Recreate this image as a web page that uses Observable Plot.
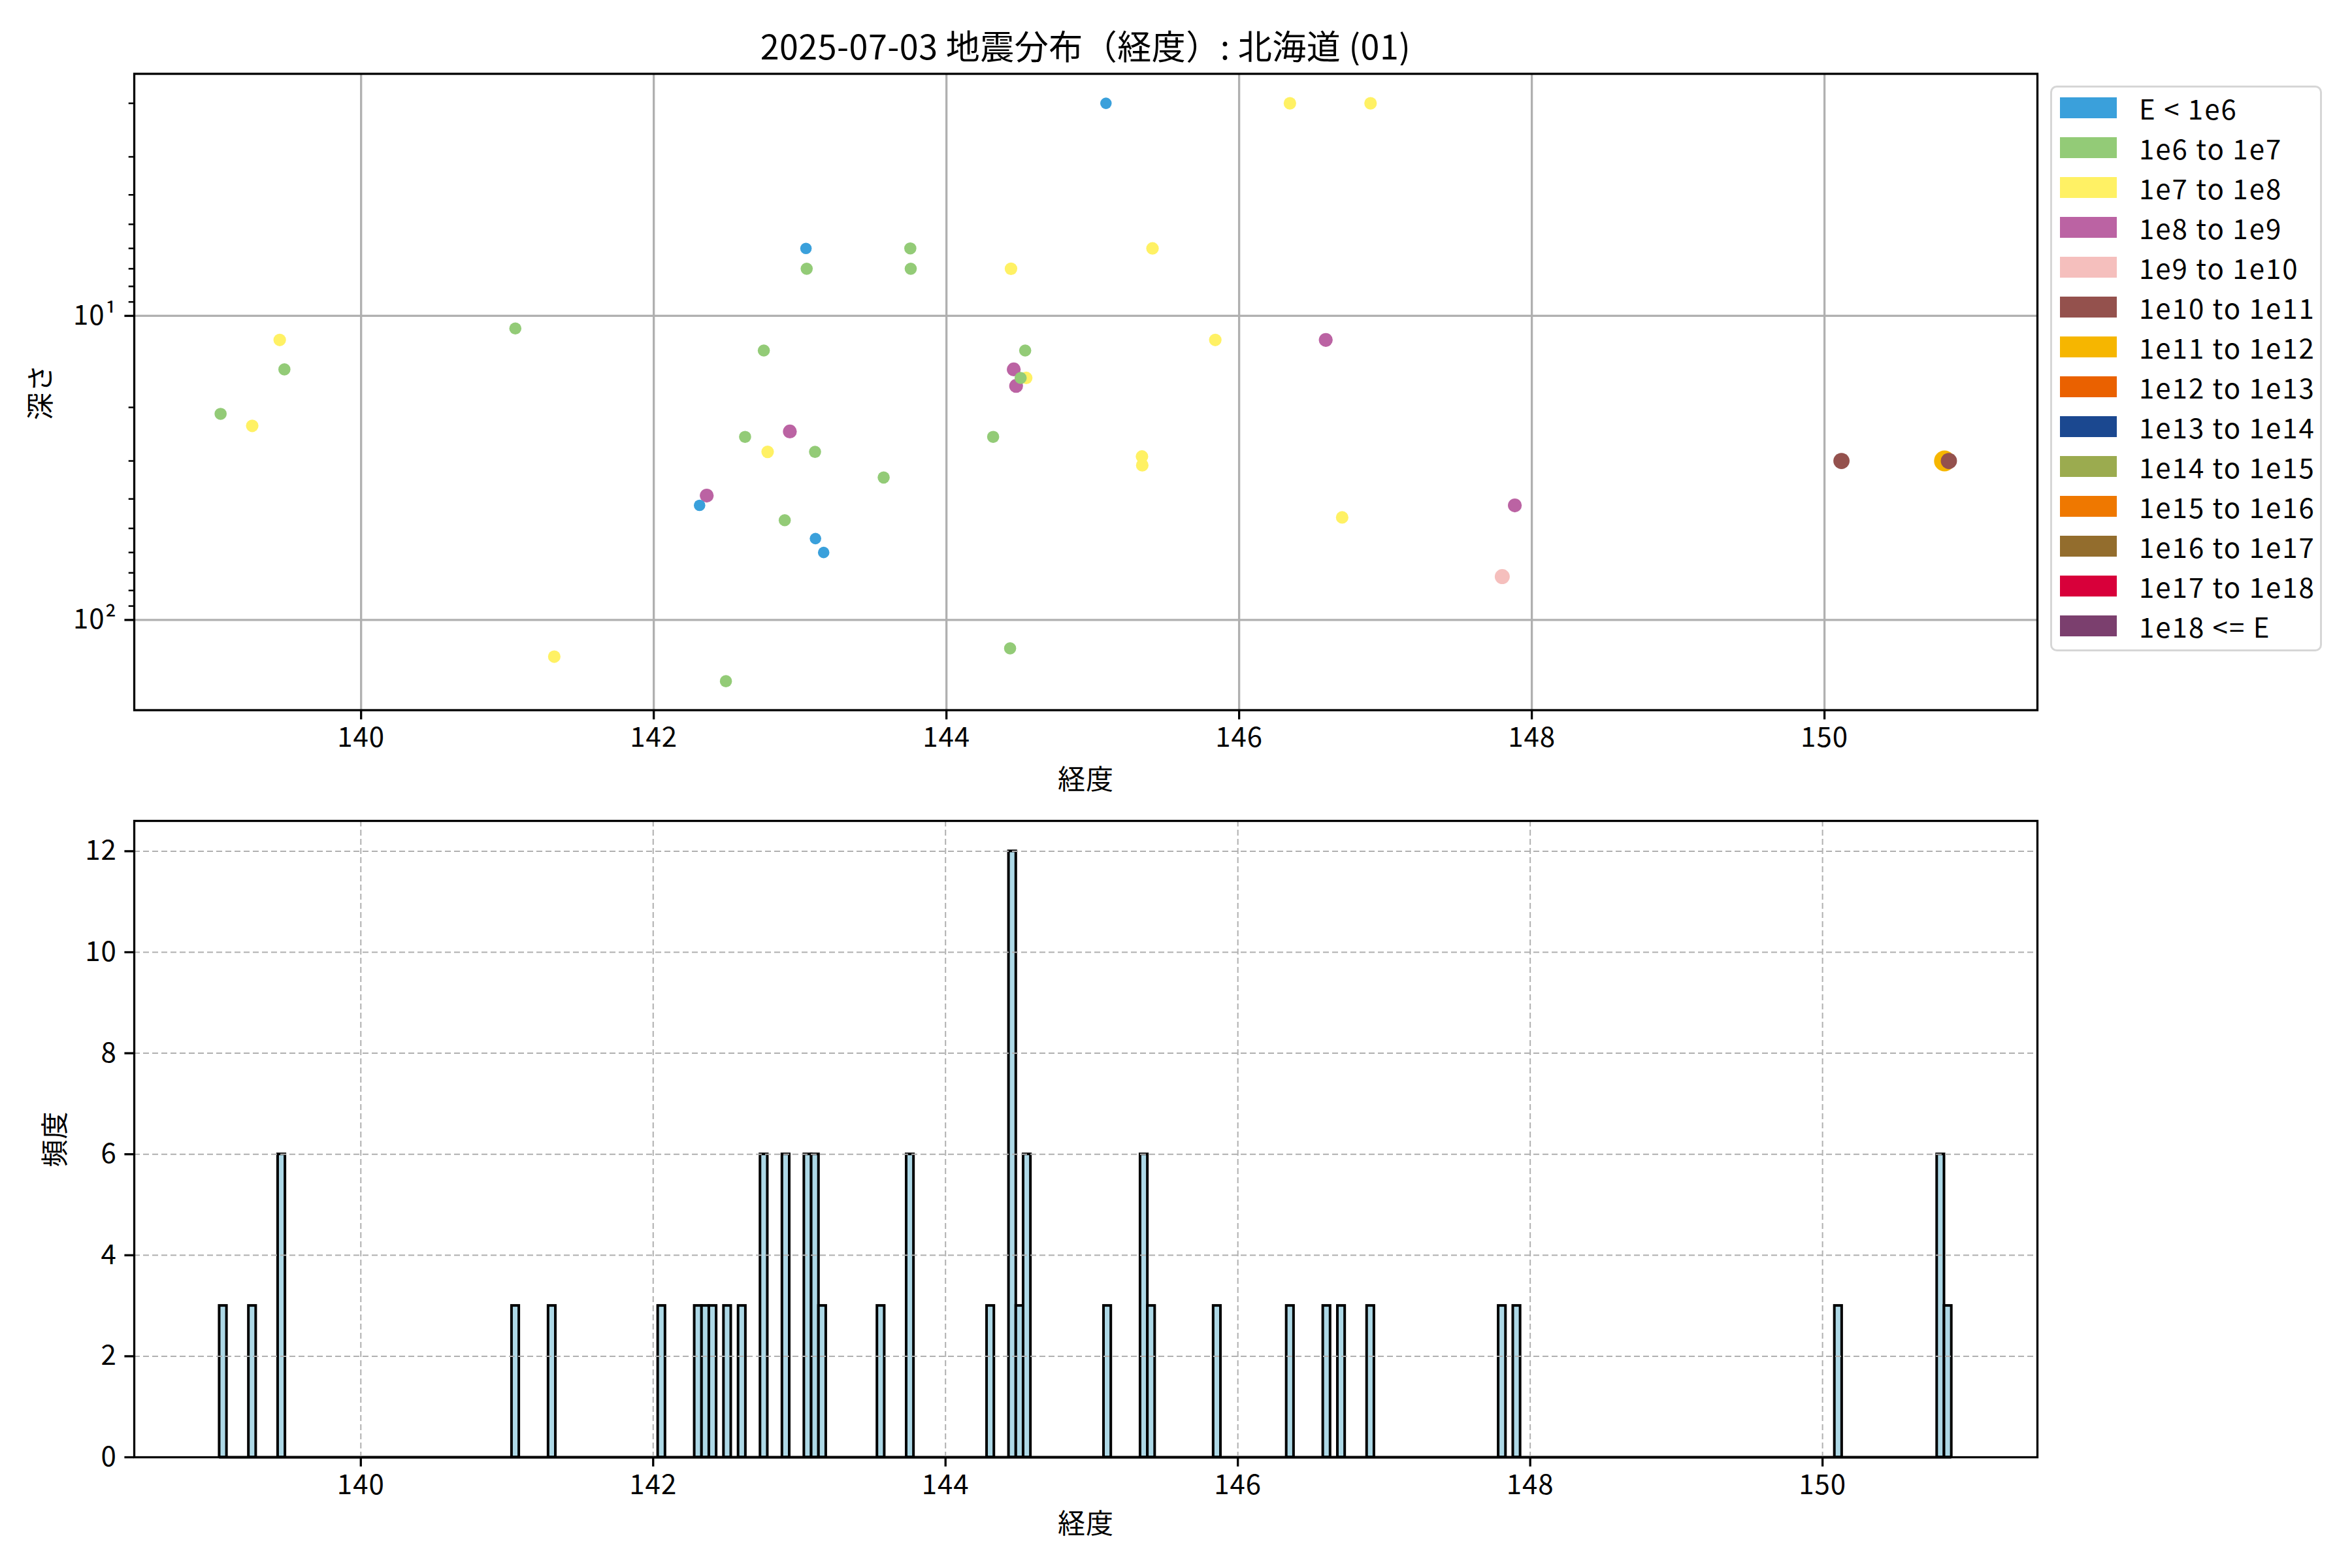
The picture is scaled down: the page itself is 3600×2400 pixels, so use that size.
<!DOCTYPE html>
<html><head><meta charset="utf-8">
<script src="https://cdn.jsdelivr.net/npm/d3@7"></script>
<script src="https://cdn.jsdelivr.net/npm/@observablehq/plot@0.6"></script>
<style>
body{margin:0;background:#fff}
#fig{position:relative;width:3600px;height:2400px;background:#fff;font-family:"Noto Sans CJK JP",sans-serif;color:#000}
#title{position:absolute;left:205px;width:2913px;top:37px;text-align:center;font-size:52px;line-height:64px;white-space:nowrap;letter-spacing:0.5px}
#topChart{position:absolute;left:0;top:100px}
#bottomChart{position:absolute;left:0;top:1240px}
#legend{position:absolute;left:3138px;top:131px;width:410px;height:854px;border:3px solid #d6d6d6;border-radius:10px;padding:0 0 6px 0;background:#fff}
.row{height:61px;display:flex;align-items:center}
.sw{width:87px;height:32px;margin-left:12px;margin-right:34px;flex:none}
.lab{font-size:42px;line-height:61px;white-space:nowrap;letter-spacing:2px}
</style></head><body>
<div id="fig">
  <div id="title"></div>
  <div id="topChart"></div>
  <div id="legend"></div>
  <div id="bottomChart"></div>
</div>
<script>
// ---------- data ----------
const titleText = "2025-07-03 地震分布（経度）: 北海道 (01)";
const xLabel = "経度";
const depthLabel = "深さ";
const countLabel = "頻度";

const classLabels = ["E < 1e6","1e6 to 1e7","1e7 to 1e8","1e8 to 1e9","1e9 to 1e10","1e10 to 1e11","1e11 to 1e12","1e12 to 1e13","1e13 to 1e14","1e14 to 1e15","1e15 to 1e16","1e16 to 1e17","1e17 to 1e18","1e18 <= E"];
const classColors = ["#3aa0db","#93cb77","#fff164","#bb63a3","#f5bfbd","#94514d","#f6b600","#ea6100","#1b4890","#9bab4f","#ef7800","#936d2d","#d8003a","#7b3f6e"];

// events (longitude, depth km, energy class index); depth 0 cannot be shown on the log axis
const quakeLon   = [139.04,139.256,139.444,139.476,141.054,141.32,142.06,142.313,142.362,142.41,142.493,142.624,142.752,142.778,142.895,142.93,143.04,143.045,143.102,143.105,143.161,143.571,143.753,143.756,144.319,144.435,144.441,144.545,144.507,144.538,144.46,144.476,145.09,145.336,145.338,145.408,145.837,146.347,146.592,146.704,146.898,147.798,147.884,150.116,150.81,150.85,150.82];
const quakeDepth = [21,23,12,15,11,132,0,42,39,0,159,25,13,28,47,24,6,7,28,54,60,34,6,7,25,124,7,16,16,13,15,17,2,29,31,6,12,2,12,46,2,72,42,30,0,30,30];
const quakeClass = [1,2,2,1,1,2,1,0,3,1,1,1,1,2,1,3,0,1,1,0,0,1,1,1,1,1,2,2,1,1,3,3,0,2,2,2,2,2,3,2,2,4,3,5,5,5,6];

const xTicks = [140,142,144,146,148,150];
const depthTicks = [10,100];
const depthMinorTicks = [2,3,4,5,6,7,8,9,20,30,40,50,60,70,80,90];

const histBinStart = [139.033,139.233,139.433,141.033,141.283,142.033,142.283,142.333,142.383,142.483,142.583,142.733,142.883,143.033,143.083,143.133,143.533,143.733,144.283,144.433,144.483,144.533,145.083,145.333,145.383,145.833,146.333,146.583,146.683,146.883,147.783,147.883,150.083,150.783,150.833];
const histCount    = [3,3,6,3,3,3,3,3,3,3,3,6,6,6,6,3,3,6,3,12,3,6,3,6,3,3,3,3,3,3,3,3,3,6,3];
const histBinWidth = 0.05;
const histRange = [139.033,150.883];
const countTicks = [0,2,4,6,8,10,12];

(function () {
// ---------- styles ----------
const classRadius = [8.8,9.3,9.6,10.6,11.5,12.4,16,16.5,17,17.5,18,18.5,19,19.5];
const font = "Noto Sans CJK JP";
const plotStyle = {fontFamily: font, fontSize: "42px", color: "black", background: "white", overflow: "visible", letterSpacing: "1px"};
const sup = "⁰¹²³⁴⁵⁶⁷⁸⁹";
const intFmt = d => String(Math.round(d));

document.getElementById("title").textContent = titleText;

// legend
const leg = document.getElementById("legend");
classLabels.forEach((l, i) => {
  const row = document.createElement("div"); row.className = "row";
  const sw = document.createElement("div"); sw.className = "sw"; sw.style.background = classColors[i];
  const lab = document.createElement("div"); lab.className = "lab"; lab.textContent = l;
  row.appendChild(sw); row.appendChild(lab); leg.appendChild(row);
});

// top scatter
const quakes = quakeLon.map((lon, i) => ({lon, depth: quakeDepth[i], cls: classLabels[quakeClass[i]], r: classRadius[quakeClass[i]]}))
  .filter(d => d.depth > 0);

const topPlot = Plot.plot({
  width: 3130, height: 1140,
  marginLeft: 205, marginRight: 12, marginTop: 12.5, marginBottom: 153.5,
  style: plotStyle,
  x: {domain: [138.45, 151.455]},
  y: {type: "log", domain: [1.6, 198], reverse: true},
  color: {domain: classLabels, range: classColors},
  r: {type: "identity"},
  marks: [
    Plot.gridX(xTicks, {stroke: "#b0b0b0", strokeOpacity: 1, strokeWidth: 3.3}),
    Plot.gridY(depthTicks, {stroke: "#b0b0b0", strokeOpacity: 1, strokeWidth: 3.3}),
    Plot.dot(quakes, {x: "lon", y: "depth", fill: "cls", r: "r", stroke: "none"}),
    Plot.axisX(xTicks, {tickSize: 14.6, tickPadding: 12, strokeWidth: 3.3, tickFormat: intFmt, label: xLabel, labelAnchor: "center", labelArrow: "none", labelOffset: 121}),
    Plot.axisY(depthTicks, {tickSize: 14.6, tickPadding: 12, strokeWidth: 3.3, tickFormat: d => "10" + sup[Math.round(Math.log10(d))], label: depthLabel, labelAnchor: "center", labelArrow: "none", labelOffset: 158}),
    Plot.axisY(depthMinorTicks, {tickSize: 8.3, strokeWidth: 2.5, fill: "none", tickFormat: () => "", label: null}),
    Plot.frame({stroke: "black", strokeWidth: 3.3})
  ]
});
document.getElementById("topChart").appendChild(topPlot);

// bottom histogram
const hist = histBinStart.map((s, i) => ({start: s, end: s + histBinWidth, count: histCount[i]}));
const bottomPlot = Plot.plot({
  width: 3130, height: 1150,
  marginLeft: 205, marginRight: 12, marginTop: 16, marginBottom: 160,
  style: plotStyle,
  x: {domain: [138.45, 151.47]},
  y: {domain: [0, 12.6]},
  marks: [
    Plot.ruleY([0], {x1: () => histRange[0], x2: () => histRange[1], stroke: "black", strokeWidth: 4}),
    Plot.rect(hist, {x1: "start", x2: "end", y1: () => 0, y2: "count", fill: "#add8e6", stroke: "black", strokeWidth: 4}),
    Plot.gridX(xTicks, {stroke: "#b0b0b0", strokeOpacity: 1, strokeWidth: 2, strokeDasharray: "9,5"}),
    Plot.gridY(countTicks.filter(d => d > 0), {stroke: "#b0b0b0", strokeOpacity: 1, strokeWidth: 2, strokeDasharray: "9,5"}),
    Plot.axisX(xTicks, {tickSize: 14.6, tickPadding: 12, strokeWidth: 3.3, tickFormat: intFmt, label: xLabel, labelAnchor: "center", labelArrow: "none", labelOffset: 116}),
    Plot.axisY(countTicks, {tickSize: 14.6, tickPadding: 12, strokeWidth: 3.3, tickFormat: intFmt, label: countLabel, labelAnchor: "center", labelArrow: "none", labelOffset: 136}),
    Plot.frame({stroke: "black", strokeWidth: 3.3})
  ]
});
document.getElementById("bottomChart").appendChild(bottomPlot);
})();
</script>
</body></html>
